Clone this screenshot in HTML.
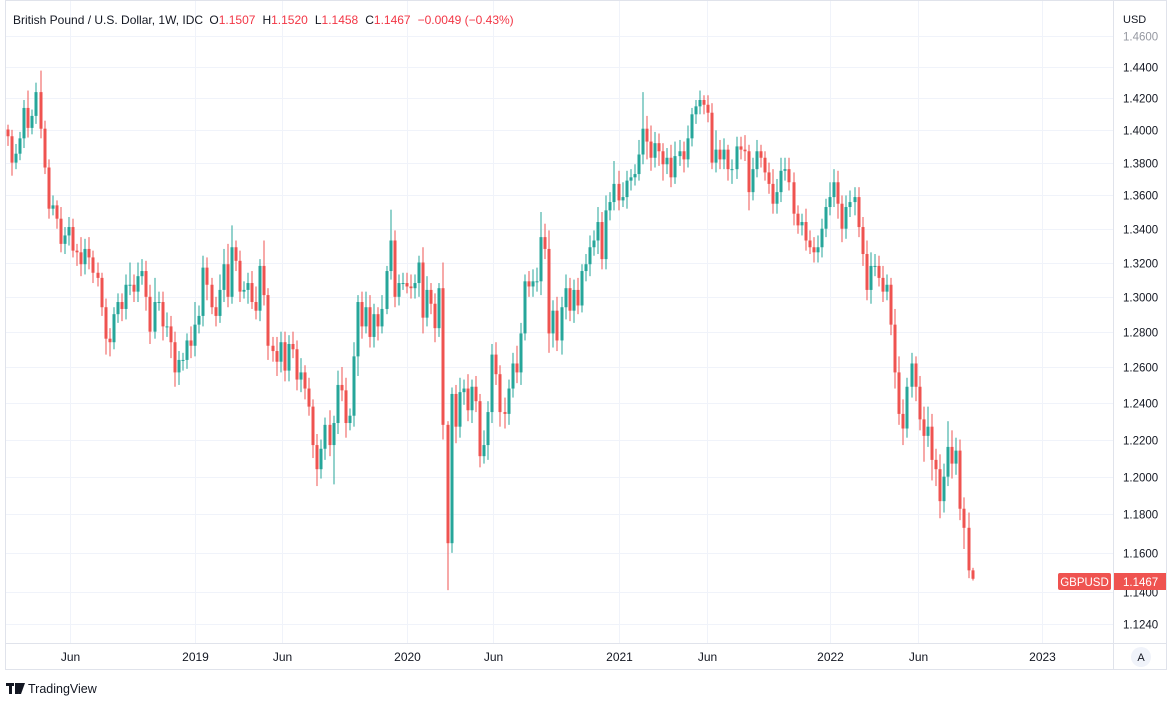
<!DOCTYPE html>
<html><head><meta charset="utf-8"><style>
html,body{margin:0;padding:0;background:#fff;width:1170px;height:701px;overflow:hidden}
svg text{font-family:"Liberation Sans",sans-serif}
</style></head><body>
<svg id="chart" width="1170" height="701" xmlns="http://www.w3.org/2000/svg">
<g id="grid"></g>
<g id="candles"></g>
<rect x="5.5" y="0.5" width="1161" height="669" fill="none" stroke="#e0e3eb"/>
<line x1="1113.5" y1="0" x2="1113.5" y2="670" stroke="#e0e3eb"/>
<line x1="5" y1="643.5" x2="1167" y2="643.5" stroke="#e0e3eb"/>
<g id="yaxis"></g>
<g id="xaxis"></g>
<text x="13" y="24" font-size="12" fill="#131722">British Pound / U.S. Dollar, 1W, IDC <tspan fill="#131722" dx="3">O</tspan><tspan fill="#f23645">1.1507</tspan><tspan fill="#131722" dx="7">H</tspan><tspan fill="#f23645">1.1520</tspan><tspan fill="#131722" dx="7">L</tspan><tspan fill="#f23645">1.1458</tspan><tspan fill="#131722" dx="7">C</tspan><tspan fill="#f23645">1.1467</tspan><tspan fill="#f23645" dx="7">−0.0049 (−0.43%)</tspan></text>
<text x="1123" y="23" font-size="11" fill="#131722">USD</text>
<g>
<rect x="1058" y="573" width="53" height="17" rx="2" fill="#ef5350"/>
<text x="1084.5" y="586" font-size="11.5" fill="#fff" text-anchor="middle">GBPUSD</text>
<rect x="1114" y="573" width="52" height="17" fill="#ef5350"/>
<text x="1123" y="586" font-size="11.5" fill="#fff">1.1467</text>
</g>
<g><circle cx="1141" cy="657" r="10" fill="#f0f3fa"/><text x="1141" y="661" font-size="11" fill="#131722" text-anchor="middle">A</text></g>
<g>
<rect x="6" y="683" width="8" height="3" fill="#131722"/><rect x="9" y="683" width="3" height="11" fill="#131722"/><polygon points="15,683 21,683 18,694 15,694" fill="#131722"/><polygon points="20,683 25,683 21,694 18,694" fill="#131722"/>
<text x="28" y="693" font-size="12.5" fill="#131722">TradingView</text>
</g>
</svg>
<script>
const closes=[1.3963,1.3800,1.3855,1.3950,1.4140,1.4015,1.4090,1.4240,1.4010,1.3770,
1.3520,1.3540,1.3460,1.3310,1.3360,1.3410,1.3270,1.3260,1.3190,1.3280,
1.3230,1.3140,1.3110,1.2940,1.2760,1.2740,1.2900,1.2970,1.2930,1.3070,
1.3070,1.3030,1.3120,1.3150,1.3000,1.2800,1.2970,1.2970,1.2830,1.2830,
1.2740,1.2570,1.2640,1.2640,1.2750,1.2720,1.2840,1.2890,1.3170,1.3070,
1.2940,1.2890,1.3040,1.3190,1.3000,1.3290,1.3210,1.3030,1.3040,1.3080,
1.2970,1.2920,1.3180,1.3010,1.2720,1.2690,1.2630,1.2740,1.2580,1.2730,
1.2700,1.2530,1.2570,1.2480,1.2380,1.2170,1.2040,1.2150,1.2280,1.2170,
1.2290,1.2500,1.2470,1.2290,1.2330,1.2660,1.2970,1.2830,1.2940,1.2770,
1.2900,1.2830,1.2930,1.3150,1.3330,1.3000,1.3080,1.3080,1.3060,1.3050,
1.3080,1.3200,1.2880,1.3040,1.2960,1.2820,1.3050,1.2280,1.1650,1.2450,
1.2270,1.2460,1.2480,1.2360,1.2490,1.2410,1.2110,1.2170,1.2350,1.2670,
1.2560,1.2350,1.2340,1.2480,1.2620,1.2570,1.2790,1.3090,1.3060,1.3090,
1.3090,1.3350,1.3280,1.2790,1.2920,1.2750,1.2940,1.3050,1.2920,1.3040,
1.2950,1.3150,1.3190,1.3290,1.3330,1.3440,1.3220,1.3510,1.3560,1.3670,
1.3570,1.3590,1.3690,1.3710,1.3730,1.3850,1.4010,1.3930,1.3830,1.3920,
1.3870,1.3790,1.3830,1.3710,1.3840,1.3870,1.3820,1.3950,1.4100,1.4150,
1.4190,1.4160,1.4110,1.3800,1.3880,1.3820,1.3880,1.3760,1.3760,1.3900,
1.3880,1.3870,1.3620,1.3760,1.3870,1.3830,1.3740,1.3670,1.3550,1.3620,
1.3750,1.3760,1.3680,1.3490,1.3420,1.3440,1.3330,1.3290,1.3260,1.3290,
1.3400,1.3530,1.3590,1.3680,1.3550,1.3400,1.3530,1.3560,1.3590,1.3410,
1.3250,1.3040,1.3180,1.3180,1.3110,1.3030,1.3070,1.2840,1.2570,1.2340,
1.2260,1.2490,1.2620,1.2490,1.2310,1.2220,1.2270,1.2090,1.2040,1.1870,
1.2000,1.2160,1.2070,1.2140,1.1830,1.1730,1.1510,1.1467];
const firstOpen=1.4005;
const upWickPips=[30,40,60,40,50,110,40,60,137,50,
50,60,30,70,50,60,50,40,90,60,
70,40,60,30,50,60,40,50,50,60,
130,60,80,70,60,70,140,60,60,80,
60,60,50,40,40,80,130,60,70,60,
40,60,90,90,120,130,40,60,50,60,
70,90,40,150,40,50,80,60,60,50,
70,50,80,40,60,40,60,50,40,80,
40,80,100,70,40,80,40,60,90,70,
60,40,80,30,184,60,50,60,60,70,
50,40,90,80,40,60,30,150,20,36,
50,80,50,80,40,60,40,80,60,60,
70,50,80,50,60,100,60,40,60,70,
80,150,80,110,60,80,60,80,60,60,
70,40,60,70,60,90,60,90,60,140,
80,90,60,50,60,90,230,80,100,70,
60,50,60,80,90,70,60,80,40,40,
60,30,60,60,120,60,70,30,60,60,
60,90,40,70,70,40,40,60,90,80,
80,70,70,60,50,50,80,60,60,70,
60,50,90,80,70,50,70,70,60,60,
60,80,80,70,60,70,60,40,90,90,
80,50,60,40,60,70,110,70,60,80,
70,140,90,70,60,60,80,13];
const downWickPips=[60,80,40,40,60,60,40,50,60,40,
60,40,60,50,60,60,40,80,70,60,
70,60,50,50,90,80,40,50,70,60,
60,60,60,50,80,70,40,50,80,60,
90,80,70,60,50,70,60,50,60,90,
40,60,40,70,60,40,60,60,40,80,
40,50,60,60,80,60,80,60,60,60,
50,60,70,60,50,70,90,50,60,60,
211,60,60,80,40,60,110,70,40,60,
60,80,40,30,50,60,50,40,40,60,
60,80,90,50,60,80,50,80,241,50,
90,60,70,60,70,60,60,40,80,60,
60,80,80,60,50,60,70,40,60,60,
60,80,60,110,80,60,80,70,60,70,
50,40,60,70,50,80,60,60,60,50,
60,40,70,60,50,40,60,110,80,60,
90,100,60,60,40,60,80,50,50,60,
50,60,60,40,60,60,60,70,90,60,
60,60,110,50,50,60,50,60,60,60,
60,60,50,70,50,60,60,40,60,60,
60,50,50,60,90,80,60,60,80,60,
70,60,80,60,50,60,50,60,90,60,
90,50,60,80,60,140,60,110,90,90,
60,50,80,60,60,110,40,9];
const priceTicks=[1.46,1.44,1.42,1.40,1.38,1.36,1.34,1.32,1.30,1.28,1.26,1.24,1.22,1.20,1.18,1.16,1.14,1.124];
const timeLabels=["Jun","2019","Jun","2020","Jun","2021","Jun","2022","Jun","2023"];
const timeLabelWeeks=[15.3,46.0,67.4,98.1,119.1,150.1,171.8,202.0,223.6,254.1];

const NS="http://www.w3.org/2000/svg";
function yScale(p){return 67-2247*Math.log(p/1.44);}
function xScale(i){return 8+i*4.07;}
function mk(tag,attrs,parent){const e=document.createElementNS(NS,tag);for(const k in attrs)e.setAttribute(k,attrs[k]);parent.appendChild(e);return e;}
const grid=document.getElementById('grid'),yaxis=document.getElementById('yaxis'),xaxis=document.getElementById('xaxis'),cg=document.getElementById('candles');
priceTicks.forEach((p,i)=>{
  const y=Math.round(yScale(p))+0.5;
  const g=mk('line',{x1:5,x2:1113,y1:y,y2:y,stroke:'#f0f3fa'},grid);
  
  
  const t=mk('text',{x:1123,y:y+4,'font-size':11.5,fill:i===0?'#9598a1':'#131722'},yaxis);
  t.textContent=p.toFixed(4);
  
  
});
timeLabels.forEach((s,i)=>{
  const x=Math.round(xScale(timeLabelWeeks[i]))+0.5;
  const g=mk('line',{x1:x,x2:x,y1:0,y2:643,stroke:'#f0f3fa'},grid);
  
  
  const t=mk('text',{x:x,y:661,'font-size':12,fill:'#131722','text-anchor':'middle'},xaxis);
  t.textContent=s;
  
  
});
closes.forEach((c,i)=>{
  const o=i===0?firstOpen:closes[i-1];
  const h=Math.max(o,c)+upWickPips[i]/10000;
  const l=Math.min(o,c)-downWickPips[i]/10000;
  const up=c>=o,col=up?'#26a69a':'#ef5350';
  const x=Math.round(xScale(i));
  const g=mk('g',{},cg);
  
  
  mk('rect',{x:x-0.5,y:yScale(h),width:1,height:yScale(l)-yScale(h),fill:col},g);
  const yt=yScale(Math.max(o,c)),yb=yScale(Math.min(o,c));
  mk('rect',{x:x-1.5,y:yt,width:3,height:Math.max(1,yb-yt),fill:col},g);
});
</script>
</body></html>
